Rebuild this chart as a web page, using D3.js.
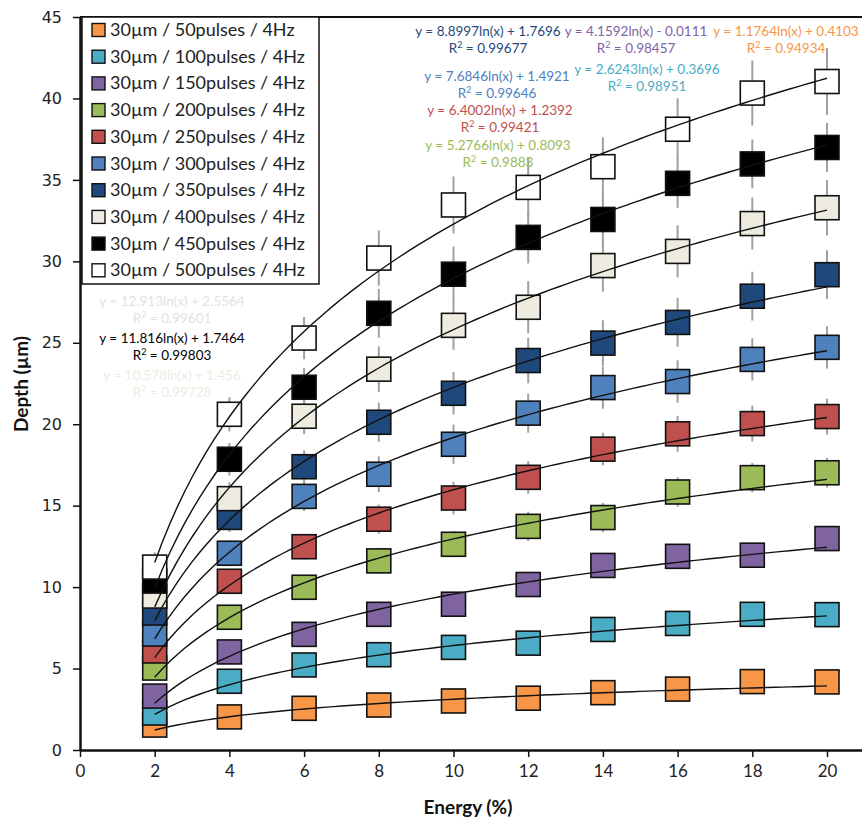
<!DOCTYPE html>
<html><head><meta charset="utf-8">
<script src="https://cdnjs.cloudflare.com/ajax/libs/d3/7.8.5/d3.min.js"></script>
<style>body{margin:0;background:#fff}</style>
</head><body>
<svg id="chart" width="862" height="823"></svg>
<script>
// ---------- data ----------
const energy = [2, 4, 6, 8, 10, 12, 14, 16, 18, 20];
const xTickValues = [0, 2, 4, 6, 8, 10, 12, 14, 16, 18, 20];
const yTickValues = [0, 5, 10, 15, 20, 25, 30, 35, 40, 45];

const seriesNames = [
  "30µm / 50pulses / 4Hz", "30µm / 100pulses / 4Hz", "30µm / 150pulses / 4Hz",
  "30µm / 200pulses / 4Hz", "30µm / 250pulses / 4Hz", "30µm / 300pulses / 4Hz",
  "30µm / 350pulses / 4Hz", "30µm / 400pulses / 4Hz", "30µm / 450pulses / 4Hz",
  "30µm / 500pulses / 4Hz"
];

const depth50  = [1.53, 2.03, 2.56, 2.76, 3.01, 3.18, 3.52, 3.74, 4.20, 4.18];
const depth100 = [2.27, 4.22, 5.22, 5.85, 6.30, 6.56, 7.40, 7.77, 8.33, 8.31];
const depth150 = [3.31, 6.02, 7.10, 8.33, 8.95, 10.16, 11.33, 11.89, 11.96, 12.98];
const depth200 = [5.03, 8.15, 9.99, 11.61, 12.63, 13.73, 14.27, 15.84, 16.72, 17.02];
const depth250 = [6.08, 10.36, 12.48, 14.17, 15.47, 16.74, 18.47, 19.41, 20.04, 20.47];
const depth300 = [7.12, 12.08, 15.57, 16.93, 18.77, 20.68, 22.25, 22.62, 23.98, 24.72];
const depth350 = [8.41, 14.28, 17.39, 20.12, 21.90, 23.91, 24.98, 26.25, 27.86, 29.18];
const depth400 = [9.45, 15.43, 20.49, 23.38, 26.07, 27.18, 29.74, 30.61, 32.32, 33.29];
const depth450 = [10.37, 17.85, 22.27, 26.81, 29.21, 31.47, 32.57, 34.79, 35.98, 36.99];
const depth500 = [11.23, 20.61, 25.29, 30.20, 33.46, 34.54, 35.81, 38.11, 40.33, 41.04];

const err50  = [0.2, 0.3, 0.3, 0.4, 0.4, 0.4, 0.5, 0.5, 0.5, 0.5];
const err100 = [0.3, 0.4, 0.5, 0.5, 0.6, 0.6, 0.6, 0.6, 0.6, 0.6];
const err150 = [0.4, 0.5, 0.6, 0.6, 0.7, 0.7, 0.7, 0.7, 0.7, 0.7];
const err200 = [0.5, 0.6, 0.7, 0.8, 0.8, 0.9, 0.9, 0.9, 0.9, 0.9];
const err250 = [0.5, 0.7, 0.8, 0.9, 1.0, 1.0, 1.0, 1.1, 1.1, 1.1];
const err300 = [0.6, 0.8, 0.9, 1.1, 1.2, 1.2, 1.3, 1.3, 1.3, 1.3];
const err350 = [0.7, 0.9, 1.0, 1.2, 1.3, 1.4, 1.4, 1.5, 1.5, 1.5];
const err400 = [0.8, 1.0, 1.1, 1.4, 1.5, 1.6, 1.6, 1.6, 1.6, 1.7];
const err450 = [0.8, 1.0, 1.2, 1.5, 1.7, 1.6, 1.6, 1.5, 1.5, 1.5];
const err500 = [0.9, 1.05, 1.3, 1.7, 1.75, 1.85, 1.8, 1.9, 2.0, 2.05];

const slopes     = [1.1764, 2.6243, 4.1592, 5.2766, 6.4002, 7.6846, 8.8997, 10.578, 11.816, 12.913];
const intercepts = [0.4103, 0.3696, -0.0111, 0.8093, 1.2392, 1.4921, 1.7696, 1.456, 1.7464, 2.5564];
const slopeText     = ["1.1764", "2.6243", "4.1592", "5.2766", "6.4002", "7.6846", "8.8997", "10.578", "11.816", "12.913"];
const interceptText = ["0.4103", "0.3696", "0.0111", "0.8093", "1.2392", "1.4921", "1.7696", "1.456", "1.7464", "2.5564"];
const r2Text        = ["0.94934", "0.98951", "0.98457", "0.9883", "0.99421", "0.99646", "0.99677", "0.99728", "0.99803", "0.99601"];

const depths = [depth50, depth100, depth150, depth200, depth250, depth300, depth350, depth400, depth450, depth500];
const errors = [err50, err100, err150, err200, err250, err300, err350, err400, err450, err500];

// ---------- styles / layout ----------
const colors = ["#F79646", "#4BACC6", "#8064A2", "#9BBB59", "#C0504D", "#4F81BD", "#1F497D", "#EEECE1", "#000000", "#FFFFFF"];
const labelColors = ["#F79646", "#4BACC6", "#8064A2", "#9BBB59", "#C0504D", "#4F81BD", "#1F497D", "#EEECE1", "#000000", "#E2E2E2"];
// equation label anchor (centre x, baseline y of first line)
const labelPos = [[786, 36], [647, 74], [636, 36], [498, 150], [500, 115], [497, 81], [488, 36], [172, 380], [172, 343], [172, 306]];

const svg = d3.select("#chart");
const W = 862, H = 823;
const m = {left: 80, top: 17, bottom: 750};
const pxPerUnit = 37.35;

const x = d3.scaleLinear().domain([0, 22]).range([m.left, m.left + 22 * pxPerUnit]);
const y = d3.scaleLinear().domain([0, 45]).range([m.bottom, m.top]);

const calibri = "Lato, 'Open Sans', sans-serif";

// plot frame top
svg.append("line").attr("x1", m.left).attr("x2", W).attr("y1", m.top).attr("y2", m.top)
  .attr("stroke", "#111").attr("stroke-width", 2);

// axes
const yAxis = svg.append("g").attr("transform", `translate(${m.left},0)`)
  .call(d3.axisLeft(y).tickValues(yTickValues).tickSize(7).tickSizeOuter(0).tickPadding(11).tickFormat(d3.format("d")));
yAxis.select(".domain").attr("stroke", "#111").attr("stroke-width", 2.5);
yAxis.selectAll(".tick line").attr("stroke", "#111").attr("stroke-width", 1.5);
yAxis.selectAll(".tick text").attr("font-family", "'DejaVu Sans', Verdana, sans-serif").attr("font-size", 16).attr("fill", "#222");

const xAxis = svg.append("g").attr("transform", `translate(0,${m.bottom})`)
  .call(d3.axisBottom(x).tickValues(xTickValues).tickSize(7).tickSizeOuter(0).tickPadding(8).tickFormat(d3.format("d")));
xAxis.select(".domain").attr("stroke", "#111").attr("stroke-width", 2.5);
xAxis.selectAll(".tick line").attr("stroke", "#111").attr("stroke-width", 1.5);
xAxis.selectAll(".tick text").attr("font-family", calibri).attr("font-size", 17).attr("fill", "#222");

// axis titles
svg.append("text").attr("x", 468).attr("y", 814).attr("text-anchor", "middle")
  .attr("font-family", calibri).attr("font-weight", "bold").attr("font-size", 19).attr("fill", "#111")
  .text("Energy (%)");
svg.append("text").attr("transform", "translate(28,384) rotate(-90)").attr("text-anchor", "middle")
  .attr("font-family", calibri).attr("font-weight", "bold").attr("font-size", 19).attr("fill", "#111")
  .text("Depth (µm)");

// error bars
const eb = svg.append("g");
depths.forEach((vals, s) => {
  eb.selectAll(null).data(energy).join("line")
    .attr("x1", d => x(d)).attr("x2", d => x(d))
    .attr("y1", (d, i) => y(vals[i] + errors[s][i]))
    .attr("y2", (d, i) => y(vals[i] - errors[s][i]))
    .attr("stroke", "#a0a0a0").attr("stroke-width", 2);
});

// markers
const ms = 24;
depths.forEach((vals, s) => {
  svg.append("g").selectAll("rect").data(energy).join("rect")
    .attr("x", d => x(d) - ms / 2)
    .attr("y", (d, i) => y(vals[i]) - ms / 2)
    .attr("width", ms).attr("height", ms)
    .attr("fill", colors[s]).attr("stroke", "#111").attr("stroke-width", 1.6);
});

// trendlines
const xs = d3.range(2, 20.001, 0.2);
const line = d3.line().x(d => x(d[0])).y(d => y(d[1]));
slopes.forEach((a, s) => {
  svg.append("path").datum(xs.map(v => [v, a * Math.log(v) + intercepts[s]]))
    .attr("d", line).attr("fill", "none").attr("stroke", "#111").attr("stroke-width", 1.4);
});

// equation labels
slopes.forEach((a, s) => {
  const sign = intercepts[s] < 0 ? "-" : "+";
  const g = svg.append("g").attr("font-family", calibri).attr("font-size", 13.5)
    .attr("fill", labelColors[s]).attr("text-anchor", "middle");
  g.append("text").attr("x", labelPos[s][0]).attr("y", labelPos[s][1])
    .text(`y = ${slopeText[s]}ln(x) ${sign} ${interceptText[s]}`);
  const t = g.append("text").attr("x", labelPos[s][0]).attr("y", labelPos[s][1] + 17);
  t.append("tspan").text("R");
  t.append("tspan").attr("font-size", 9).attr("dy", -5).text("2");
  t.append("tspan").attr("dy", 5).text(` = ${r2Text[s]}`);
});

// legend
const lg = svg.append("g");
lg.append("rect").attr("x", 82).attr("y", 17).attr("width", 237).attr("height", 267)
  .attr("fill", "#fff").attr("stroke", "#111").attr("stroke-width", 1.5);
seriesNames.forEach((name, s) => {
  const cy = 30 + s * 26.7;
  lg.append("rect").attr("x", 92).attr("y", cy - 6.5).attr("width", 13).attr("height", 13)
    .attr("fill", colors[s]).attr("stroke", "#111").attr("stroke-width", 1.4);
  lg.append("text").attr("x", 110).attr("y", cy + 6).attr("font-family", calibri)
    .attr("font-size", 18).attr("fill", "#222").text(name);
});
</script>
</body></html>
